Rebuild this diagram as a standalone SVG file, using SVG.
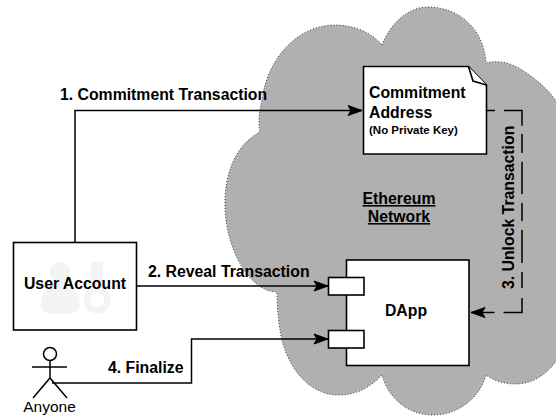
<svg xmlns="http://www.w3.org/2000/svg" width="556" height="417" viewBox="0 0 556 417">
<style>
.b{fill:#fff;stroke:#000;stroke-width:1.6}
.c{fill:none;stroke:#000;stroke-width:1.5}
text{font-family:"Liberation Sans",Arial,sans-serif;font-weight:bold;font-size:15.800px;fill:#000}
</style>
<defs>
<marker id="a" markerUnits="userSpaceOnUse" markerWidth="16" markerHeight="12" refX="15" refY="6" orient="auto"><path d="M1 1L15 6L1 11L4 6Z" fill="#000" stroke="#000" stroke-width="1"/></marker>
</defs>
<rect width="556" height="417" fill="#fff"/>
<g id="cloud">
<path d="M382 45C393 18 412 7 428 7C458 7 484 28 486 63C497 60 510 62 522 70C538 80 552 92 560 108L560 355C550 372 535 384 515 384C505 384 494 381 486 375C480 398 458 415 433 415C408 415 388 398 382 375C370 388 356 395 338 395C308 395 285 365 280 330C278 318 277 305 277 292C250 292 226 250 225 207C224 175 235 145 260 132C258 122 259 112 262 100C268 55 300 25 335 25C355 25 372 33 382 45Z" fill="#b0b0b0" stroke="#333" stroke-width="1" stroke-dasharray="1 2"/>
</g>
<g id="connectors">
<path class="c" d="M75 242V110.500H362" marker-end="url(#a)"/>
<path class="c" d="M137 286H328" marker-end="url(#a)"/>
<path class="c" d="M52 383H191.500V339H328" marker-end="url(#a)"/>
<path class="c" d="M486 110.500H522V312.500H471" stroke-dasharray="9 9 33.200 8.300 19 8.700 32.300 9 18 9 33 9 16 10 33 9 40" marker-end="url(#a)"/>
</g>
<g id="commitment">
<path class="b" d="M363.500 66.500H468.500L486.500 85V154H363.500Z"/>
<path class="b" d="M468.500 66.500L473 81L486.500 85"/>
<text x="369" y="98">Commitment</text>
<text x="369" y="118">Address</text>
<text x="369" y="134" style="font-size:11.500px">(No Private Key)</text>
</g>
<g id="network">
<text x="399" y="204" text-anchor="middle" text-decoration="underline">Ethereum</text>
<text x="399" y="222" text-anchor="middle" text-decoration="underline">Network</text>
</g>
<g id="dapp">
<rect class="b" x="346.500" y="260" width="122.500" height="105.500"/>
<rect class="b" x="328.500" y="277.500" width="35.500" height="17.500"/>
<rect class="b" x="328.500" y="330.500" width="35.500" height="17.500"/>
<text x="406" y="316" text-anchor="middle">DApp</text>
</g>
<g id="user">
<rect class="b" x="13.500" y="242.500" width="123" height="87.500"/>
<g fill="#f4f4f4">
<circle cx="60" cy="272" r="10"/>
<path d="M41 306C41 292 50 281 60 281C70 281 80 292 80 306C80 313 70 314 60 314C50 314 41 313 41 306Z"/>
<path d="M91 262H103V288A13.500 13.500 0 1 1 91 288ZM97 293a7 7 0 1 0 .1 0Z" fill-rule="evenodd"/>
</g>
<text x="75" y="289" text-anchor="middle">User Account</text>
</g>
<g id="anyone">
<circle cx="50" cy="354" r="6.500" fill="#fff" stroke="#000" stroke-width="1.500"/>
<path class="c" d="M50 360.500V378M32 367H67M33 398L50 378L67 398"/>
<text x="49.500" y="412" text-anchor="middle" style="font-weight:normal;font-size:15.500px">Anyone</text>
</g>
<g id="labels">
<text x="60" y="100">1. Commitment Transaction</text>
<text x="148" y="277">2. Reveal Transaction</text>
<text x="108" y="373">4. Finalize</text>
<text transform="translate(514 289) rotate(-90)">3. Unlock Transaction</text>
</g>
</svg>
